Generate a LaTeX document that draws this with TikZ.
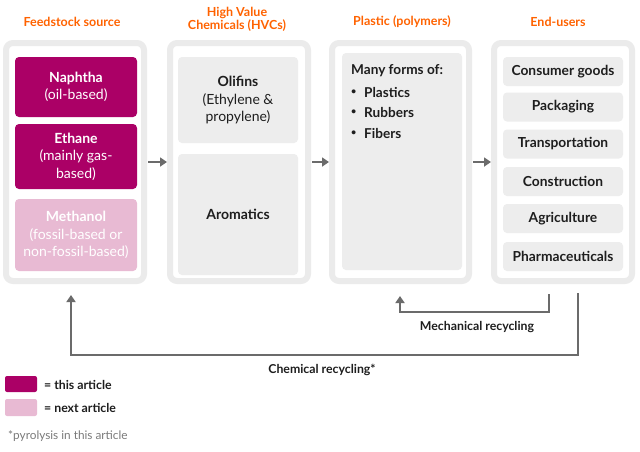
\documentclass[tikz,border=0pt]{standalone}
\usepackage{fontspec}
\setmainfont{Lato}
\usetikzlibrary{arrows.meta}
\definecolor{ingorange}{HTML}{FF6200}
\definecolor{magen}{HTML}{AB0066}
\definecolor{lpink}{HTML}{E8BAD3}
\definecolor{boxgray}{HTML}{EDEDED}
\definecolor{bordergray}{HTML}{EBEBEB}
\definecolor{linegray}{HTML}{6B6B6B}
\definecolor{txt}{HTML}{1E1E1E}
\definecolor{foot}{HTML}{7A7A7A}
\tikzset{
  outerbox/.style={draw=bordergray, line width=6pt, fill=white, rounded corners=7pt, inner sep=0pt, outer sep=0pt},
  innerbox/.style={fill=boxgray, rounded corners=4pt, inner sep=0pt, outer sep=0pt, align=center, text=txt, font=\fontsize{14}{17.5}\selectfont},
  magbox/.style={innerbox, fill=magen, text=white},
  pinkbox/.style={innerbox, fill=lpink, text=white},
  userbox/.style={innerbox, font=\fontsize{13.8}{15}\selectfont\bfseries, minimum width=120pt, minimum height=29pt},
  hdr/.style={text=ingorange, font=\fontsize{12.5}{14}\selectfont\bfseries, align=center, inner sep=0pt},
  flowarrow/.style={draw=linegray, line width=2.5pt, -{Triangle[width=9pt,length=7pt]}},
  recyc/.style={draw=linegray, line width=2.5pt, -{Triangle[width=9pt,length=7pt]}},
  lbl/.style={text=txt, font=\fontsize{12.3}{14}\selectfont\bfseries, inner sep=0pt},
  bodytxt/.style={text=txt, font=\fontsize{13.6}{15}\selectfont\bfseries, inner sep=0pt, anchor=west},
  bulletdot/.style={text=txt, font=\fontsize{9}{10}\selectfont\bfseries, inner sep=0pt, anchor=west},
}
\begin{document}
\begin{tikzpicture}[x=1pt,y=-1pt]
\useasboundingbox (0,0) rectangle (640,451);
% headers
\node[hdr] (h1) at (72,22) {Feedstock source};
\node[hdr] (h2) at (237,19) {High Value\\[-1pt]Chemicals (HVCs)};
\node[hdr] (h3) at (402,22) {Plastic (polymers)};
\node[hdr] (h4) at (558,22) {End-users};
% outer boxes
\node[outerbox, minimum width=138pt, minimum height=238pt] (c1) at (75,162) {};
\node[outerbox, minimum width=138pt, minimum height=238pt] (c2) at (239,162) {};
\node[outerbox, minimum width=137pt, minimum height=238pt] (c3) at (400.5,162) {};
\node[outerbox, minimum width=138pt, minimum height=238pt] (c4) at (563,162) {};
% feedstock
\node[magbox, minimum width=122pt, minimum height=60pt] (naph) at (76,87) {\textbf{Naphtha}\\(oil-based)};
\node[magbox, minimum width=122pt, minimum height=65pt] (eth) at (76,156.5) {\textbf{Ethane}\\(mainly gas-\\based)};
\node[pinkbox, minimum width=122pt, minimum height=72pt] (meth) at (76,235) {\textbf{Methanol}\\(fossil-based or\\non-fossil-based)};
% HVC
\node[innerbox, minimum width=120pt, minimum height=86pt] (oli) at (238,100) {\textbf{Olifins}\\(Ethylene \&\\propylene)};
\node[innerbox, minimum width=120pt, minimum height=121pt] (aro) at (238,214.5) {\textbf{Aromatics}};
% plastic
\node[innerbox, minimum width=120pt, minimum height=217pt] (pla) at (402,161.5) {};
\node[bodytxt] (many) at (351,71) {Many forms of:};
\node[bulletdot] (b1) at (351,92) {•};
\node[bodytxt] (t1) at (364,92) {Plastics};
\node[bulletdot] (b2) at (351,112.5) {•};
\node[bodytxt] (t2) at (364,112.5) {Rubbers};
\node[bulletdot] (b3) at (351,133) {•};
\node[bodytxt] (t3) at (364,133) {Fibers};
% end users
\node[userbox] (e1) at (563,71.5) {Consumer goods};
\node[userbox] (e2) at (563,107) {Packaging};
\node[userbox] (e3) at (563,144) {Transportation};
\node[userbox] (e4) at (563,181.5) {Construction};
\node[userbox] (e5) at (563,218.5) {Agriculture};
\node[userbox] (e6) at (563,256.5) {Pharmaceuticals};
% flow arrows
\draw[flowarrow, shorten <=4pt, shorten >=3pt] (c1.east) -- (c2.west);
\draw[flowarrow, shorten <=4pt, shorten >=3pt] (c2.east) -- (c3.west);
\draw[flowarrow, shorten <=4pt, shorten >=3pt] (c3.east) -- (c4.west);
% recycling
\coordinate (chemA) at (578,293);
\coordinate (chemB) at (71,295);
\coordinate (chemC) at (71,355);
\coordinate (mechA) at (549,294);
\coordinate (mechB) at (400,296);
\coordinate (mechC) at (400,312);
\draw[recyc] (chemA) |- (chemC) -- (chemB);
\draw[recyc] (mechA) |- (mechC) -- (mechB);
\node[lbl] (mechl) at (477,327) {Mechanical recycling};
\node[lbl] (cheml) at (322,370) {Chemical recycling*};
% legend
\node[fill=magen, rounded corners=2pt, minimum width=32pt, minimum height=16pt, inner sep=0pt] (lg1) at (21,384) {};
\node[fill=lpink, rounded corners=2pt, minimum width=32pt, minimum height=17pt, inner sep=0pt] (lg2) at (21,407.5) {};
\node[lbl, anchor=west] (lt1) at (44,385) {= this article};
\node[lbl, anchor=west] (lt2) at (44,408) {= next article};
\node[text=foot, font=\fontsize{11.8}{13}\selectfont, anchor=west, inner sep=0pt] (fn) at (8,436) {*pyrolysis in this article};
\end{tikzpicture}
\end{document}
